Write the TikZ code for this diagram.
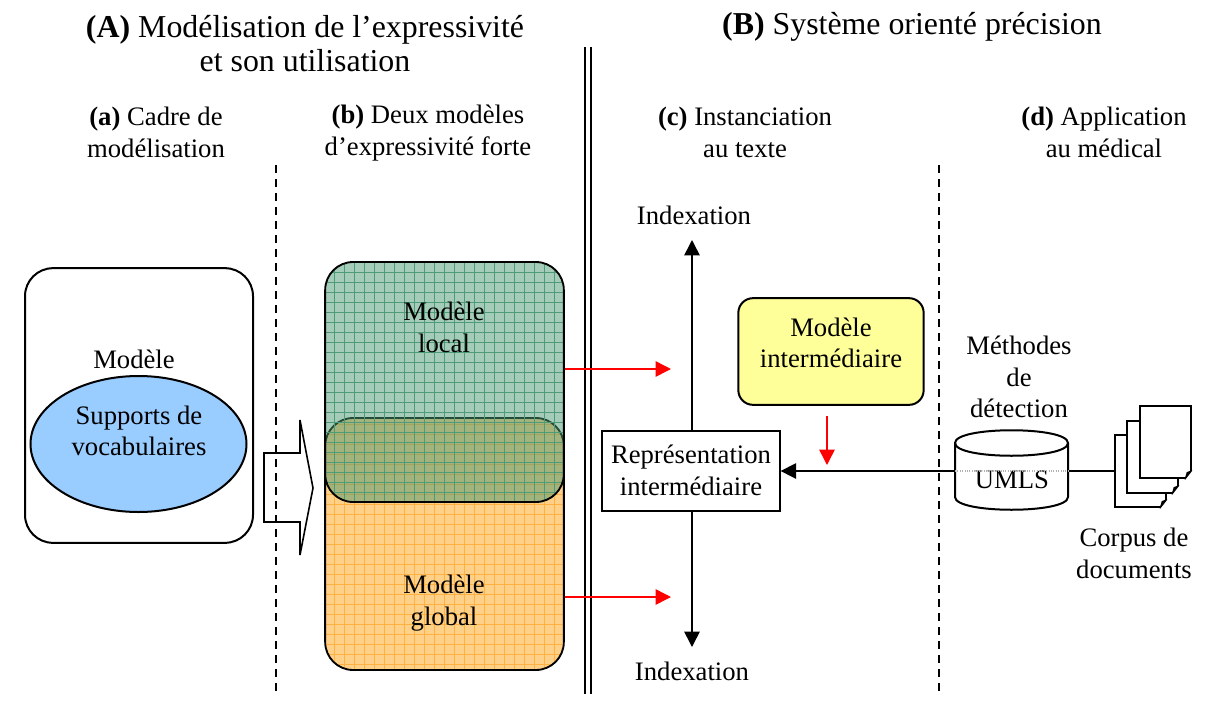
\documentclass[tikz,border=0pt]{standalone}
\usepackage{fontspec}
\setmainfont{Liberation Serif}
\usetikzlibrary{
    arrows.meta,
    shapes.geometric,
    calc
}

\newcommand{\bigfont}{\fontsize{23.9}{25.5}\selectfont}
\newcommand{\txtfont}{\fontsize{20}{23.5}\selectfont}

\definecolor{skyfill}{RGB}{153,204,255}
\definecolor{yellowfill}{RGB}{255,255,153}
\definecolor{orangefill}{RGB}{255,208,135}
\definecolor{orangegrid}{RGB}{255,178,65}
\definecolor{greenfill}{RGB}{75,152,115}
\definecolor{greengrid}{RGB}{78,155,120}

\begin{document}
\begin{tikzpicture}[x=0.75pt, y=-0.75pt,
    >={Triangle[length=11.5pt, width=11.5pt]},
    title/.style={font=\bigfont, align=center, inner sep=0pt},
    txt/.style={font=\txtfont, align=center, inner sep=0pt},
    line/.style={draw=black, line width=1.5pt},
    sep/.style={draw=black, line width=1.2pt, dash pattern=on 6pt off 4.5pt},
    red arrow/.style={draw=red, line width=1.1pt, ->},
    gridded/.style={rounded corners=21pt, line width=1.4pt, draw=black, minimum width=179pt,
        path picture={\draw[line width=0.35pt, draw=#1, step=7.5pt]
            (path picture bounding box.south west) grid (path picture bounding box.north east);}},
    page/.style={rectangle, draw=black, fill=white, line width=1.3pt, minimum width=38pt, minimum height=54.5pt}
]
    \useasboundingbox (0, 0) rectangle (1208, 708);

    \node[title] (ta) at (305, 44) {\textbf{(A)} Modélisation de l'expressivité\\et son utilisation};
    \node[title] (tb) at (912, 27) {\textbf{(B)} Système orienté précision};
    \node[txt] (la) at (156, 132.5) {\textbf{(a)} Cadre de\\modélisation};
    \node[txt] (lb) at (428, 133) {\textbf{(b)} Deux modèles\\d'expressivité forte};
    \node[txt] (lc) at (745, 132.5) {\textbf{(c)} Instanciation\\au texte};
    \node[txt] (ld) at (1104, 132.5) {\textbf{(d)} Application\\au médical};

    % separators
    \coordinate (s1a) at (276, 165);
    \coordinate (s1b) at (276, 692);
    \coordinate (s2a) at (939, 165);
    \coordinate (s2b) at (939, 692);
    \coordinate (d1a) at (585, 47);
    \coordinate (d1b) at (585, 694);
    \coordinate (d2a) at (591, 47);
    \coordinate (d2b) at (591, 694);
    \draw[sep] (s1a) -- (s1b);
    \draw[sep] (s2a) -- (s2b);
    \draw[line width=2.2pt] (d1a) -- (d1b);
    \draw[line width=1.8pt] (d2a) -- (d2b);

    % (a)
    \node[rectangle, rounded corners=21pt, line, minimum width=171pt, minimum height=206pt] (cadre) at (139, 405.5) {};
    \node[txt] (mod) at (134, 359) {Modèle};
    \node[ellipse, line, fill=skyfill, minimum width=162pt, minimum height=102pt, inner sep=0pt] (supp) at (138.5, 444) {};
    \node[txt] (supptxt) at (139, 431) {Supports de\\vocabulaires};
    \draw[line width=1.2pt] (264, 453) -- (300, 453) -- (300, 420) -- (313, 488) -- (300, 555) -- (300, 522) -- (264, 522) -- cycle;

    % (b)
    \node[gridded=orangegrid, fill=orangefill, minimum height=189pt] (global) at (444.5, 544) {};
    \node[gridded=greengrid, fill=greenfill, fill opacity=0.5, minimum height=180pt] (local) at (444.5, 382) {};
    \node[txt] (localtxt) at (444, 327.5) {Modèle\\local};
    \node[txt] (globaltxt) at (444, 603) {Modèle\\global};

    % (c)
    \node[txt, rectangle, line, fill=white, minimum width=133pt, minimum height=60pt] (rep) at (691, 470.5) {Représentation\\intermédiaire};
    \node[txt] (itop) at (694, 215) {Indexation};
    \node[txt] (ibot) at (692, 671) {Indexation};
    \coordinate (atop) at (692, 240);
    \coordinate (abot) at (692, 647);
    \coordinate (rtop) at (671, 369);
    \coordinate (rbot) at (671, 597);
    \node[rectangle, rounded corners=11pt, line, fill=yellowfill, minimum width=139pt, minimum height=80pt] (inter) at (831, 351.5) {};
    \node[txt] (intertxt) at (831, 343) {Modèle\\intermédiaire};
    \coordinate (ra) at (827, 416);
    \coordinate (rb) at (827, 465);

    % (d)
    \node[txt] (meth) at (1019, 377) {Méthodes\\de\\détection};
    \coordinate (umlsw) at (955, 471);
    \coordinate (umlse) at (1068, 471);
    \draw[line, fill=white] (955, 443) -- (955, 497) .. controls (955, 514) and (1068, 514) .. (1068, 497) -- (1068, 443) .. controls (1068, 426) and (955, 426) .. (955, 443) -- cycle;
    \draw[line] (955, 443) .. controls (955, 460) and (1068, 460) .. (1068, 443);
    \node[txt] (umlstxt) at (1012, 480) {UMLS};
    \node[page] (p1) at (1140.5, 471) {};
    \node[page] (p2) at (1152.5, 457) {};
    \node[page] (p3) at (1165.5, 442) {};
    \foreach \p in {p1, p2, p3} {
        \fill[white] ($(\p.south east)+(1,1)$) -- ($(\p.south east)+(1,-10)$) -- ($(\p.south east)+(-8,1)$) -- cycle;
        \draw[line width=1.1pt] ($(\p.south east)+(0,-9)$) -- ($(\p.south east)+(-7,0)$);
        \fill[black] ($(\p.south east)+(0,-9)$) -- ($(\p.south east)+(-7,0)$) -- ($(\p.south east)+(-5,-7)$) -- cycle;
    }
    \node[txt] (corpus) at (1134, 553.5) {Corpus de\\documents};

    % connectors
    \draw[line width=1.2pt]
    (rep.north -| atop) edge[->] (atop)
    (rep.south -| abot) edge[->] (abot)
    (umlsw) edge[->] (rep.east |- umlsw)
    (umlse) edge (p1.west);
    \draw[draw=gray!60, densely dotted, line width=0.8pt] (umlsw) -- (umlse);
    \draw[red arrow] (local.east |- rtop) -- (rtop);
    \draw[red arrow] (global.east |- rbot) -- (rbot);
    \draw[red arrow] (ra) -- (rb);
\end{tikzpicture}
\end{document}
